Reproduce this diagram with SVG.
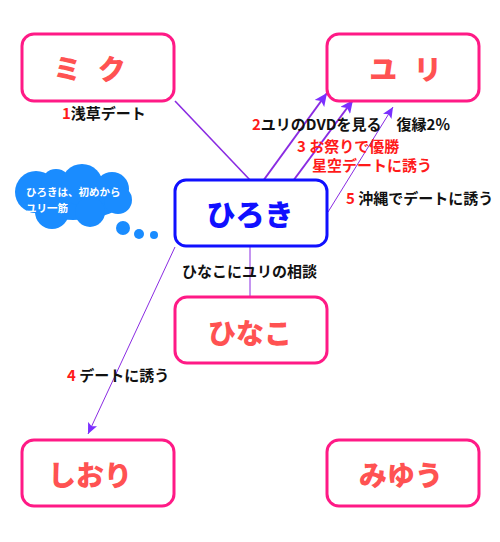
<svg xmlns="http://www.w3.org/2000/svg" width="500" height="542" viewBox="0 0 500 542">
<style>
.box{fill:#fff;stroke:#ff1a86;stroke-width:3}
.hbox{fill:#fff;stroke:#1010ff;stroke-width:3}
.name{font-family:"Noto Sans CJK JP","Noto Sans",sans-serif;font-weight:900;font-size:28px;fill:#ff5252;text-anchor:middle}
.hname{font-family:"Noto Sans CJK JP","Noto Sans",sans-serif;font-weight:900;font-size:29px;fill:#1010ff;text-anchor:middle}
.lbl{font-family:"Noto Sans CJK JP","Noto Sans",sans-serif;font-weight:700;font-size:15px;fill:#111}
.red{fill:#ff1a1a}
.line{stroke:#8a2be2;fill:none}
.cloud{fill:#1a8cff}
.ctext{font-family:"Noto Sans CJK JP","Noto Sans",sans-serif;font-weight:700;font-size:10.5px;fill:#fff}
</style>
<defs>
<marker id="ah" markerUnits="userSpaceOnUse" markerWidth="14" markerHeight="12" refX="13" refY="6" orient="auto">
<path d="M0,0 L13,6 L0,12 L3,6 Z" fill="#7b2fff"/>
</marker>
<marker id="ahs" markerUnits="userSpaceOnUse" markerWidth="12" markerHeight="10" refX="11" refY="5" orient="auto">
<path d="M0,0 L11,5 L0,10 L2.5,5 Z" fill="#7b2fff"/>
</marker>
</defs>
<rect width="500" height="542" fill="#fff"/>
<g id="connectors">
<line class="line" x1="175" y1="101" x2="250" y2="180" stroke-width="1.6"/>
<line class="line" x1="263" y1="181" x2="327" y2="93" stroke-width="2" marker-end="url(#ah)"/>
<line class="line" x1="293" y1="181" x2="353" y2="100" stroke-width="2" marker-end="url(#ah)"/>
<line class="line" x1="328" y1="212" x2="393" y2="107" stroke-width="1" marker-end="url(#ahs)"/>
<line class="line" x1="175" y1="247" x2="88" y2="434" stroke-width="1" marker-end="url(#ahs)"/>
<line class="line" x1="250" y1="247" x2="250" y2="297" stroke-width="1"/>
</g>
<g id="labels">
<text class="lbl" x="62" y="119"><tspan class="red">1</tspan>浅草デート</text>
<text class="lbl" x="252" y="130"><tspan class="red">2</tspan>ユリのDVDを見る　復縁2％</text>
<text class="lbl red" x="297" y="152">3 お祭りで優勝</text>
<text class="lbl red" x="312" y="171">星空デートに誘う</text>
<text class="lbl" x="346" y="204"><tspan class="red">5</tspan> 沖縄でデートに誘う</text>
<text class="lbl" x="182" y="277">ひなこにユリの相談</text>
<text class="lbl" x="67" y="381"><tspan class="red">4</tspan> デートに誘う</text>
</g>
<g id="cloud">
<ellipse class="cloud" cx="73" cy="198" rx="52" ry="22"/>
<circle class="cloud" cx="36" cy="192" r="21"/>
<circle class="cloud" cx="56" cy="184" r="15"/>
<circle class="cloud" cx="82" cy="185" r="21"/>
<circle class="cloud" cx="112" cy="189" r="17"/>
<circle class="cloud" cx="118" cy="200" r="14"/>
<circle class="cloud" cx="52" cy="212" r="17"/>
<circle class="cloud" cx="90" cy="212" r="15"/>
<circle class="cloud" cx="123" cy="228" r="7"/>
<circle class="cloud" cx="139" cy="234" r="5"/>
<circle class="cloud" cx="154" cy="235" r="4"/>
<text class="ctext" x="26" y="196">ひろきは、初めから</text>
<text class="ctext" x="26" y="212">ユリ一筋</text>
</g>
<g id="miku">
<rect class="box" x="22" y="34" width="152" height="67" rx="12"/>
<text class="name" x="92" y="80" letter-spacing="5">ミ ク</text>
</g>
<g id="yuri">
<rect class="box" x="327" y="34" width="152" height="67" rx="12"/>
<text class="name" x="408" y="80" letter-spacing="5">ユ リ</text>
</g>
<g id="hiroki">
<rect class="hbox" x="175" y="180" width="152" height="66" rx="11"/>
<text class="hname" x="250" y="226">ひろき</text>
</g>
<g id="hinako">
<rect class="box" x="175" y="297" width="152" height="66" rx="12"/>
<text class="name" x="250" y="344">ひなこ</text>
</g>
<g id="shiori">
<rect class="box" x="22" y="440" width="152" height="66" rx="12"/>
<text class="name" x="90" y="486">しおり</text>
</g>
<g id="miyuu">
<rect class="box" x="327" y="440" width="152" height="66" rx="12"/>
<text class="name" x="401" y="486">みゆう</text>
</g>
</svg>
